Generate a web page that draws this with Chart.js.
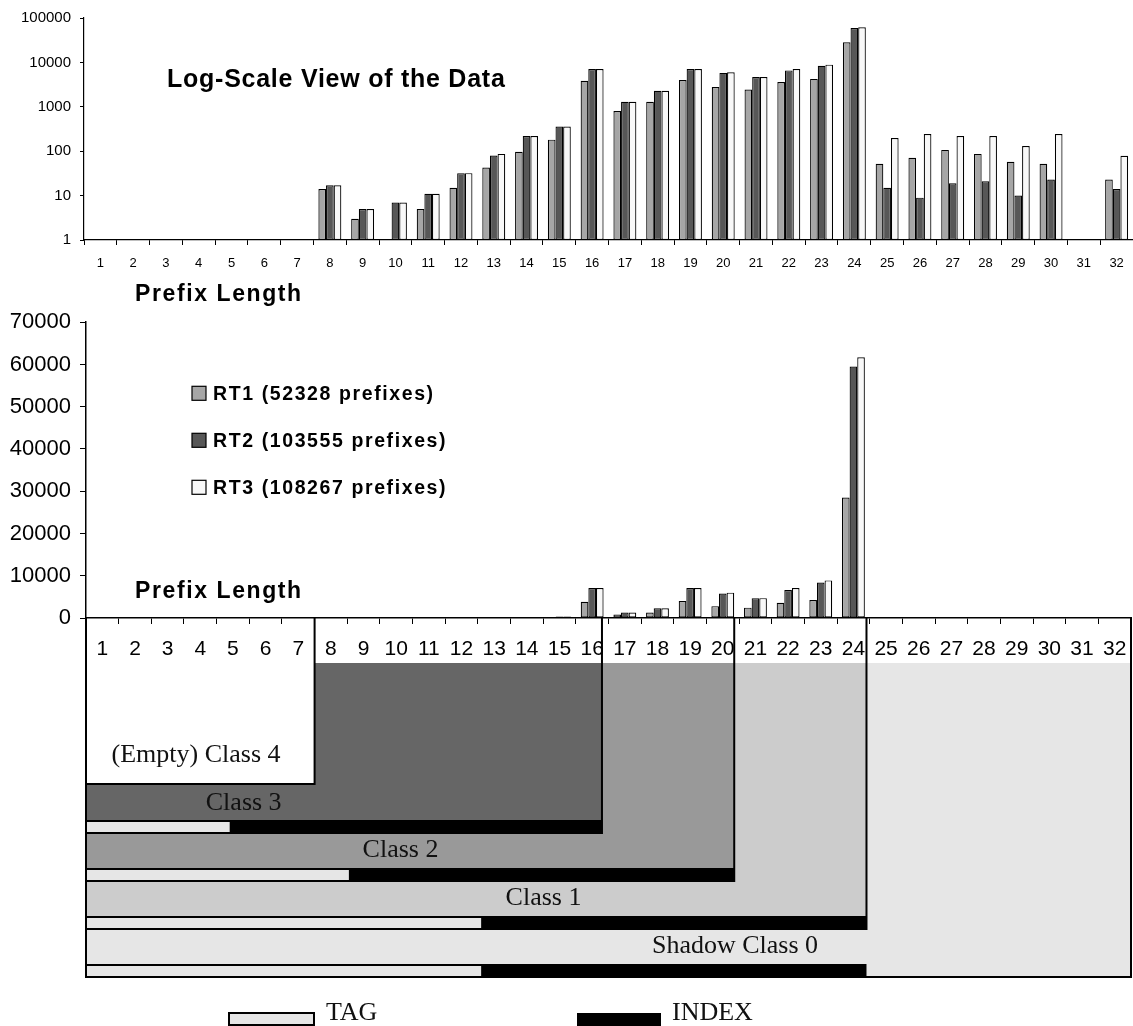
<!DOCTYPE html>
<html>
<head>
<meta charset="utf-8">
<title>Prefix length distribution and shadow classes</title>
<script src="https://cdn.jsdelivr.net/npm/chart.js@4.4.1/dist/chart.umd.min.js"></script>
<style>
  html, body { margin:0; padding:0; background:#ffffff; overflow:hidden; }
  #page { position:relative; width:1133px; height:1026px; background:#ffffff; }
  canvas { position:absolute; left:0; }
  #logChart { top:0; }
  #linChart { top:300px; }
</style>
</head>
<body>
<div id="page">
  <canvas id="logChart" width="1133" height="320"></canvas>
  <canvas id="linChart" width="1133" height="726"></canvas>
</div>
<script>
// ------------------------------------------------------------------
// DATA
// ------------------------------------------------------------------
const prefixLengths = ['1','2','3','4','5','6','7','8','9','10','11','12','13','14','15','16',
                       '17','18','19','20','21','22','23','24','25','26','27','28','29','30','31','32'];

const rt1Counts = [null,null,null,null,null,null,null, 14, 3, null, 5, 15, 43, 97, 182, 3850,
                   800, 1300, 4000, 2800, 2450, 3600, 4250, 28500, 52, 71, 107, 87, 58, 52, null, 23];
const rt2Counts = [null,null,null,null,null,null,null, 17, 5, 7, 11, 32, 80, 219, 360, 7100,
                   1300, 2300, 7100, 5800, 4700, 6600, 8400, 59500, 15, 9, 19, 21, 10, 23, null, 14];
const rt3Counts = [null,null,null,null,null,null,null, 17, 5, 7, 11, 32, 87, 219, 360, 7100,
                   1300, 2300, 7100, 6000, 4700, 7100, 8900, 61700, 198, 243, 219, 219, 131, 243, null, 79];

const seriesNames = ['RT1 (52328 prefixes)', 'RT2 (103555 prefixes)', 'RT3 (108267 prefixes)'];

const logTickValues = [1, 10, 100, 1000, 10000, 100000];
const linTickValues = [0, 10000, 20000, 30000, 40000, 50000, 60000, 70000];

const logTitle = 'Log-Scale View of the Data';
const axisTitle = 'Prefix Length';

// class diagram (prefix-length boundaries)
const classNames = ['Shadow Class 0', 'Class 1', 'Class 2', 'Class 3', '(Empty) Class 4'];
const classEnds  = [32, 23.9, 19.85, 15.8, 7];
const indexEnds  = [23.9, 23.9, 19.85, 15.8];
const tagEnds    = [12.1, 12.1, 8.05, 4.4];
const keyNames   = ['TAG', 'INDEX'];

// ------------------------------------------------------------------
// STYLE
// ------------------------------------------------------------------
const SANS  = '"Liberation Sans", Arial, Helvetica, sans-serif';
const SERIF = '"Liberation Serif", "Times New Roman", Times, serif';
const seriesFill = ['#a6a6a6', '#575757', '#f8f8f8'];
const classFill  = ['#e6e6e6', '#cccccc', '#999999', '#666666', '#ffffff'];

const DIAG = {
  fillTop: 45,
  stripTop: [346, 298, 250, 202],
  stripH: 14,
  tagInset: 2,
  class4Bottom: 166,
  frameBottom: 360,
  lineW: 2,
  labelX: [735, 543.5, 400.5, 243.7, 196],
  labelBaseline: [335, 287, 239, 192, 144],
  labelFont: '26px ' + SERIF,
  keyX: [229, 577], keyW: [85, 84], keyTop: 395, keyH: 12,
  keyTextX: [326, 672], keyBaseline: 402
};

const KEY = { boxX: 192, box: 14, firstY: 93.3, step: 47, textX: 213,
              font: 'bold 19.5px ' + SANS, spacing: '1.6px' };

function makeDatasets() {
  return [rt1Counts, rt2Counts, rt3Counts].map((d, i) => ({
    label: seriesNames[i],
    data: d,
    backgroundColor: seriesFill[i],
    borderColor: '#000000',
    borderWidth: 1.2,
    borderSkipped: false,
    barPercentage: 1.0,
    categoryPercentage: 0.7
  }));
}

function noSidePadding(s) { s.paddingLeft = 0; s.paddingRight = 0; }

// ------------------------------------------------------------------
// TOP CHART: log scale
// ------------------------------------------------------------------
const logTexts = {
  id: 'logTexts',
  afterDraw(chart) {
    const ctx = chart.ctx;
    ctx.save();
    ctx.fillStyle = '#000';
    ctx.textAlign = 'left';
    ctx.textBaseline = 'alphabetic';
    ctx.font = 'bold 25px ' + SANS;
    ctx.letterSpacing = '0.75px';
    ctx.fillText(logTitle, 167, 87.3);
    ctx.font = 'bold 23px ' + SANS;
    ctx.letterSpacing = '1.6px';
    ctx.fillText(axisTitle, 135, 301.3);
    ctx.restore();
  }
};

new Chart(document.getElementById('logChart'), {
  type: 'bar',
  data: { labels: prefixLengths, datasets: makeDatasets() },
  options: {
    responsive: false, animation: false, events: [],
    layout: { padding: { top: 15, right: 0, bottom: 0, left: 0 } },
    plugins: { legend: { display: false }, tooltip: { enabled: false }, title: { display: false } },
    scales: {
      x: {
        offset: true,
        grid: { display: true, drawOnChartArea: false, drawTicks: true, tickLength: 5,
                color: '#000', lineWidth: 1, offset: true },
        border: { display: true, color: '#000', width: 1.2 },
        ticks: { color: '#000', font: { family: SANS, size: 13 }, padding: 11,
                 autoSkip: false, maxRotation: 0, minRotation: 0 },
        afterFit(s) { s.height = 80; noSidePadding(s); }
      },
      y: {
        type: 'logarithmic', min: 1, max: 100000,
        grid: { display: true, drawOnChartArea: false, drawTicks: true, tickLength: 4, color: '#000' },
        border: { display: true, color: '#000', width: 1.2 },
        ticks: { color: '#000', font: { family: SANS, size: 15 }, padding: 9,
                 callback: v => String(v) },
        afterBuildTicks(s) { s.ticks = logTickValues.map(v => ({ value: v })); },
        afterFit(s) { s.width = 84; }
      }
    }
  },
  plugins: [logTexts]
});

// ------------------------------------------------------------------
// BOTTOM CHART: linear scale + class diagram
// ------------------------------------------------------------------
const seriesKey = {
  id: 'seriesKey',
  afterDraw(chart) {
    const ctx = chart.ctx;
    ctx.save();
    chart.data.datasets.forEach((ds, i) => {
      const cy = KEY.firstY + i * KEY.step;
      ctx.fillStyle = ds.backgroundColor;
      ctx.fillRect(KEY.boxX, cy - KEY.box / 2, KEY.box, KEY.box);
      ctx.strokeStyle = '#000';
      ctx.lineWidth = 1.2;
      ctx.strokeRect(KEY.boxX, cy - KEY.box / 2, KEY.box, KEY.box);
      ctx.fillStyle = '#000';
      ctx.font = KEY.font;
      ctx.letterSpacing = KEY.spacing;
      ctx.textAlign = 'left';
      ctx.textBaseline = 'middle';
      ctx.fillText(ds.label, KEY.textX, cy + 1);
    });
    ctx.font = 'bold 23px ' + SANS;
    ctx.letterSpacing = '1.6px';
    ctx.textBaseline = 'alphabetic';
    ctx.fillText(axisTitle, 135, 297.5);
    ctx.restore();
  }
};

const classDiagram = {
  id: 'classDiagram',
  afterDraw(chart) {
    const ctx = chart.ctx, xs = chart.scales.x, y0 = chart.chartArea.bottom, D = DIAG;
    const px = b => xs.getPixelForValue(b - 0.5);
    ctx.save();
    ctx.letterSpacing = '0px';

    // nested class regions, largest first
    const fillBottom = [D.frameBottom, D.stripTop[1], D.stripTop[2], D.stripTop[3], D.class4Bottom];
    classEnds.forEach((e, i) => {
      ctx.fillStyle = classFill[i];
      ctx.fillRect(px(0), y0 + D.fillTop, px(e) - px(0), fillBottom[i] - D.fillTop);
    });

    // tag / index strips
    for (let i = 0; i < indexEnds.length; i++) {
      const top = y0 + D.stripTop[i];
      ctx.fillStyle = '#000';
      ctx.fillRect(px(0), top, px(indexEnds[i]) - px(0), D.stripH);
      ctx.fillStyle = classFill[0];
      ctx.fillRect(px(0) + 1, top + D.tagInset, px(tagEnds[i]) - px(0) - 1, D.stripH - 2 * D.tagInset);
    }

    // frame and class borders
    ctx.fillStyle = '#000';
    const vline = (b, h) => ctx.fillRect(px(b) - D.lineW / 2, y0, D.lineW, h);
    vline(0, D.frameBottom);
    vline(32, D.frameBottom);
    ctx.fillRect(px(0) - 1, y0 + D.frameBottom - D.lineW, px(32) - px(0) + 2, D.lineW);
    vline(classEnds[4], D.class4Bottom + 1);
    ctx.fillRect(px(0), y0 + D.class4Bottom - 1, px(classEnds[4]) - px(0), D.lineW);
    for (let i = 1; i < 4; i++) vline(classEnds[i], D.stripTop[i] + D.stripH);

    // class labels
    ctx.font = D.labelFont;
    ctx.textAlign = 'center';
    ctx.textBaseline = 'alphabetic';
    ctx.fillStyle = '#111';
    classNames.forEach((n, i) => ctx.fillText(n, D.labelX[i], y0 + D.labelBaseline[i]));

    // TAG / INDEX key
    ctx.fillStyle = classFill[0];
    ctx.fillRect(D.keyX[0], y0 + D.keyTop, D.keyW[0], D.keyH);
    ctx.strokeStyle = '#000';
    ctx.lineWidth = 2;
    ctx.strokeRect(D.keyX[0], y0 + D.keyTop, D.keyW[0], D.keyH);
    ctx.fillStyle = '#000';
    ctx.fillRect(D.keyX[1], y0 + D.keyTop, D.keyW[1], D.keyH + 1);
    ctx.textAlign = 'left';
    ctx.fillStyle = '#111';
    keyNames.forEach((n, i) => ctx.fillText(n, D.keyTextX[i], y0 + D.keyBaseline));
    ctx.restore();
  }
};

new Chart(document.getElementById('linChart'), {
  type: 'bar',
  data: { labels: prefixLengths, datasets: makeDatasets() },
  options: {
    responsive: false, animation: false, events: [],
    layout: { padding: { top: 17, right: 2, bottom: 364, left: 0 } },
    plugins: { legend: { display: false }, tooltip: { enabled: false }, title: { display: false } },
    scales: {
      x: {
        offset: true,
        grid: { display: true, drawOnChartArea: false, drawTicks: true, tickLength: 6,
                color: '#000', lineWidth: 1, offset: true },
        border: { display: true, color: '#000', width: 1.5 },
        ticks: { color: '#000', font: { family: SANS, size: 21 }, padding: 13,
                 autoSkip: false, maxRotation: 0, minRotation: 0 },
        afterFit(s) { s.height = 44; noSidePadding(s); }
      },
      y: {
        min: 0, max: 70000,
        grid: { display: true, drawOnChartArea: false, drawTicks: true, tickLength: 6, color: '#000' },
        border: { display: true, color: '#000', width: 1.5 },
        ticks: { color: '#000', font: { family: SANS, size: 22 }, padding: 9,
                 callback: v => String(v) },
        afterBuildTicks(s) { s.ticks = linTickValues.map(v => ({ value: v })); },
        afterFit(s) { s.width = 86; }
      }
    }
  },
  plugins: [seriesKey, classDiagram]
});
</script>
</body>
</html>
